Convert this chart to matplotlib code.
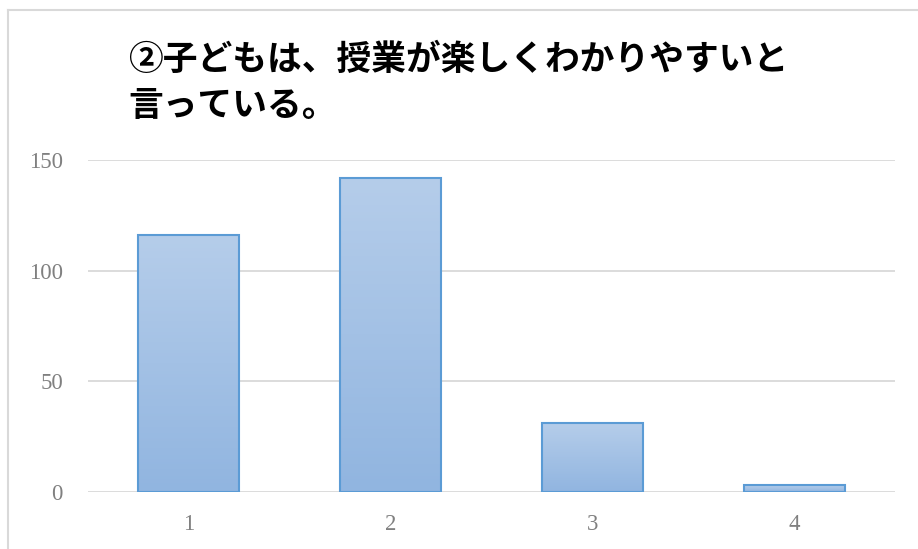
import numpy as np
import matplotlib.pyplot as plt
from matplotlib.lines import Line2D

# data
categories = ['1', '2', '3', '4']
counts = [116, 142, 31, 3]
title = '②子どもは、授業が楽しくわかりやすいと\n言っている。'

plt.rcParams['font.family'] = ['Noto Sans CJK JP', 'DejaVu Sans']

fig = plt.figure(figsize=(9.18, 5.49), dpi=100)
ax = fig.add_axes([88 / 918, 57 / 549, 807 / 918, 332 / 549])

x = np.arange(1, len(categories) + 1)
bars = ax.bar(x, counts, width=0.5, facecolor='none', edgecolor='#5b9bd5',
              linewidth=1.5, zorder=3)

# vertical gradient fill inside each bar
grad = np.linspace(0, 1, 100).reshape(-1, 1)
cmap = plt.matplotlib.colors.LinearSegmentedColormap.from_list(
    'g', ['#b5cdea', '#91b5e0'])
for b in bars:
    x0, y0 = b.get_x(), b.get_y()
    im = ax.imshow(grad, cmap=cmap, aspect='auto', origin='upper',
                   extent=[x0, x0 + b.get_width(), y0, y0 + b.get_height()],
                   zorder=2)
    im.set_clip_path(b)

ax.set_xlim(0.5, 4.5)
ax.set_ylim(0, 150)
ax.set_yticks([0, 50, 100, 150])
ax.set_xticks(x)
ax.set_xticklabels(categories)
ax.grid(axis='y', color='#d9d9d9', linewidth=1.3, zorder=0)
ax.tick_params(length=0, labelcolor='#808080', labelsize=16.5)
ax.tick_params(axis='y', pad=18)
ax.tick_params(axis='x', pad=16)
for lab in ax.get_xticklabels() + ax.get_yticklabels():
    lab.set_family('Liberation Serif')
for s in ax.spines.values():
    s.set_visible(False)

fig.text(128 / 918, 1 - 42 / 549, title, fontsize=25, fontweight='bold',
         va='top', ha='left', linespacing=1.4)

# chart area border
fig.add_artist(Line2D([8 / 918, 8 / 918], [0, 1 - 10 / 549], color='#d9d9d9', lw=1.5))
fig.add_artist(Line2D([8 / 918, 1], [1 - 10 / 549, 1 - 10 / 549], color='#d9d9d9', lw=1.5))

fig.savefig('out.png', dpi=100)
